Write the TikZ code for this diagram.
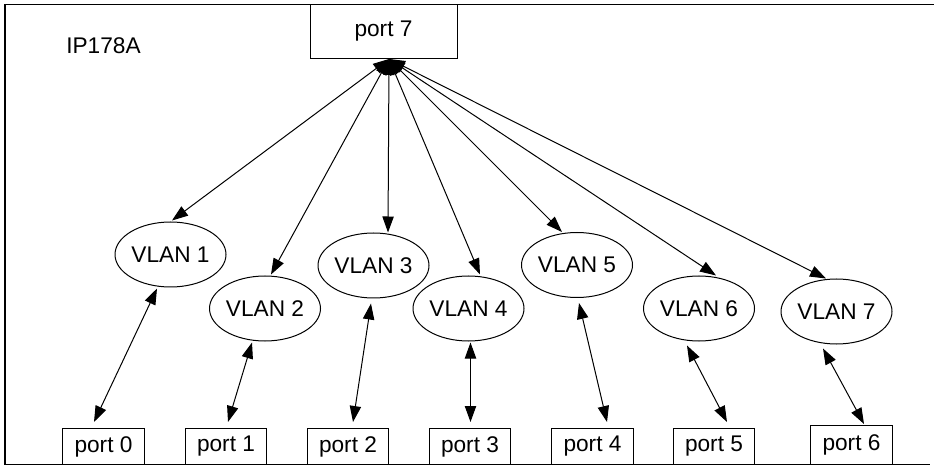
\documentclass[tikz,border=0pt]{standalone}
\usepackage{fontspec}
\setmainfont{Liberation Sans}
\usetikzlibrary{shapes.geometric,arrows.meta}
\begin{document}
\begin{tikzpicture}[x=0.75pt,y=-0.75pt,
  lbl/.style={font=\fontsize{17}{20}\selectfont},
  vlan/.style={lbl, draw, ellipse, minimum width=83.25pt, minimum height=48.75pt, inner sep=0pt, line width=0.75pt},
  portbox/.style={lbl, draw, rectangle, minimum width=61pt, minimum height=27pt, inner sep=0pt, line width=0.75pt},
  link/.style={line width=0.75pt, {Triangle[length=12pt,width=8.5pt]}-{Triangle[length=12pt,width=8.5pt]}},
  framebox/.style={line width=1.1pt}]
\useasboundingbox (0,0) rectangle (934,466);
\draw[framebox] (934,4.5) -- (5,4.5) -- (5,464.5) -- (930,464.5);

\node[lbl] (title) at (103.5,46) {IP178A};
\node[portbox, minimum width=110.25pt, minimum height=40.5pt] (p7) at (383.5,31.5) {port 7};
\coordinate (hub) at ([shift={(5.5,0)}]p7.south);

\node[vlan] (v1) at (170.5,254.5) {VLAN 1};
\node[vlan] (v2) at (265,308.5) {VLAN 2};
\node[vlan] (v3) at (373.5,265.5) {VLAN 3};
\node[vlan] (v4) at (468.5,308.5) {VLAN 4};
\node[vlan] (v5) at (577,265) {VLAN 5};
\node[vlan] (v6) at (699,308.5) {VLAN 6};
\node[vlan] (v7) at (836.5,311.5) {VLAN 7};

\node[portbox] (p0) at (103.5,446.5) {port 0};
\node[portbox] (p1) at (226,446.5) {port 1};
\node[portbox] (p2) at (348,446.5) {port 2};
\node[portbox] (p3) at (470,446.5) {port 3};
\node[portbox] (p4) at (592.5,446.5) {port 4};
\node[portbox] (p5) at (714,446.5) {port 5};
\node[portbox, minimum height=29.25pt] (p6) at (851.5,445) {port 6};

\draw[link] (hub) -- ([shift={(1.5,-1)}]v1.north);
\draw[link] (hub) -- ([shift={(6,-1)}]v2.north);
\draw[link] (hub) -- ([shift={(14.5,0)}]v3.north);
\draw[link] (hub) -- ([shift={(11.5,-1)}]v4.north);
\draw[link] (hub) -- ([shift={(-15,0)}]v5.north);
\draw[link] (hub) -- ([shift={(17,0)}]v6.north);
\draw[link] (hub) -- ([shift={(-10.5,0)}]v7.north);

\draw[link] ([shift={(-13.5,1)}]v1.south) -- ([shift={(-9.5,-6)}]p0.north);
\draw[link] ([shift={(-13,1)}]v2.south) -- ([shift={(2,-6)}]p1.north);
\draw[link] ([shift={(-2.5,5)}]v3.south) -- ([shift={(5,-6)}]p2.north);
\draw[link] ([shift={(2,1)}]v4.south) -- ([shift={(0.5,-6)}]p3.north);
\draw[link] ([shift={(2,5)}]v5.south) -- ([shift={(14.5,-6)}]p4.north);
\draw[link] ([shift={(-12,4)}]v6.south) -- ([shift={(13,-6)}]p5.north);
\draw[link] ([shift={(-13.5,4)}]v7.south) -- ([shift={(12.5,-1)}]p6.north);
\end{tikzpicture}
\end{document}
